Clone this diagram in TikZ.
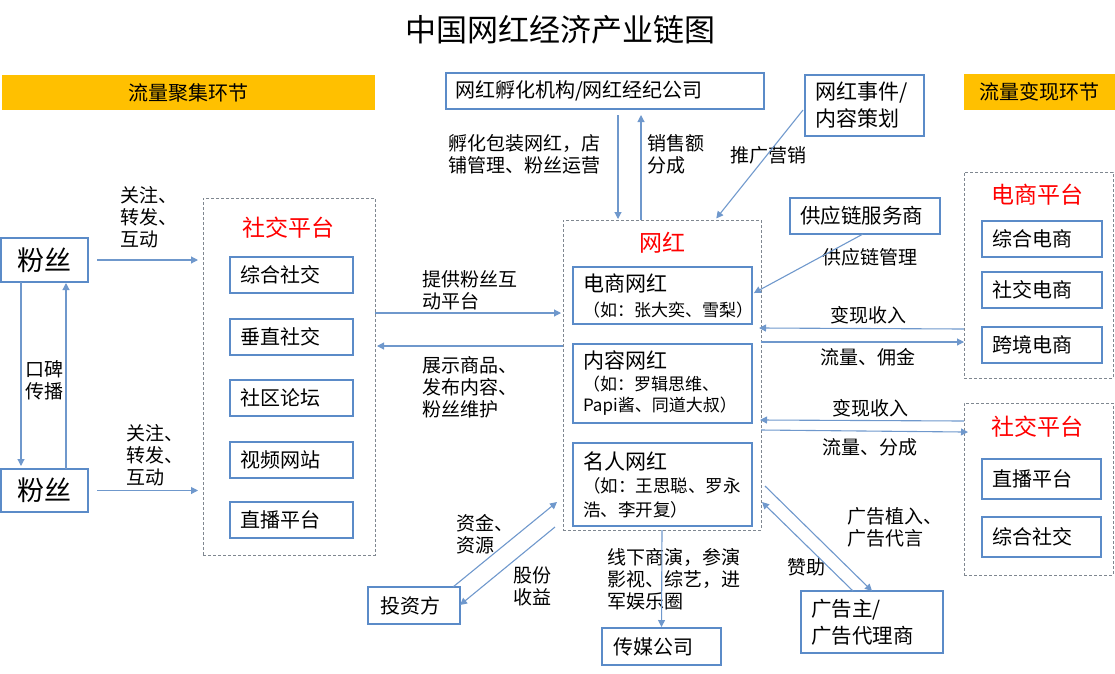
\documentclass[tikz,border=0pt]{standalone}
\usepackage{fontspec}
\setmainfont{Noto Sans CJK SC}
\usetikzlibrary{arrows.meta,calc}
\definecolor{boxblue}{HTML}{5B8BC8}
\definecolor{arrblue}{HTML}{6F98CC}
\definecolor{dashgray}{HTML}{7F8790}
\definecolor{bandyellow}{HTML}{FFC000}
\definecolor{redt}{HTML}{FF0000}
\begin{document}
\begin{tikzpicture}[x=1pt,y=-1pt,
  box/.style={draw=boxblue, line width=2pt, align=left, inner ysep=0pt, inner xsep=10pt, outer sep=0pt, anchor=north west, font=\fontsize{20}{24}\selectfont},
  grp/.style={draw=dashgray, line width=1pt, dash pattern=on 3pt off 2pt, anchor=north west, inner sep=0pt, outer sep=0pt},
  grptitle/.style={text=redt, font=\fontsize{23}{28}\selectfont, inner sep=0pt},
  band/.style={fill=bandyellow, anchor=north west, inner sep=0pt, outer sep=0pt, font=\fontsize{20}{24}\selectfont},
  lbl/.style={align=left, anchor=west, inner sep=0pt, font=\fontsize{19}{22}\selectfont},
  arr/.style={draw=arrblue, line width=1.1pt, -{Triangle[length=7pt,width=7pt]}}]
\useasboundingbox (0,0) rectangle (1115,673);

% title
\node[font=\fontsize{31}{36}\selectfont, inner sep=0pt] (title) at (560,30) {中国网红经济产业链图};

% bands
\node[band, minimum width=373pt, minimum height=35pt] (bandL) at (2,75) {流量聚集环节};
\node[band, minimum width=151pt, minimum height=36pt] (bandR) at (964,74) {流量变现环节};

% fans
\node[box, align=center, text width=67pt, minimum height=44pt, font=\fontsize{27}{30}\selectfont] (fans1) at (1,238) {粉丝};
\node[box, align=center, text width=67pt, minimum height=43pt, font=\fontsize{27}{30}\selectfont] (fans2) at (1,469) {粉丝};

% left social platform group
\node[grp, minimum width=172pt, minimum height=357pt] (soc) at (203,198) {};
\node[grptitle] (soct) at (288,228) {社交平台};
\node[box, text width=103pt, minimum height=36pt] (s1) at (230,257) {综合社交};
\node[box, text width=103pt, minimum height=36pt] (s2) at (230,319) {垂直社交};
\node[box, text width=103pt, minimum height=36pt] (s3) at (230,380) {社区论坛};
\node[box, text width=103pt, minimum height=36pt] (s4) at (230,442) {视频网站};
\node[box, text width=103pt, minimum height=36pt] (s5) at (230,502) {直播平台};

% top boxes
\node[box, inner xsep=9pt, text width=300pt, minimum height=36pt] (incub) at (446,73) {网红孵化机构/网红经纪公司};
\node[box, text width=99pt, minimum height=61pt, font=\fontsize{21}{27}\selectfont] (event) at (805,75) {网红事件/\\内容策划};
\node[box, text width=130pt, minimum height=36pt, font=\fontsize{20.5}{24}\selectfont] (supply) at (790,198) {供应链服务商};

% wanghong group
\node[grp, minimum width=198pt, minimum height=310pt] (wh) at (563,220) {};
\node[grptitle] (wht) at (662,243) {网红};
\node[box, text width=159pt, minimum height=57pt, font=\fontsize{21}{25}\selectfont] (ewh) at (573,267)
  {电商网红\\\fontsize{17}{25}\selectfont （如：张大奕、雪梨）};
\node[box, text width=159pt, minimum height=79pt, font=\fontsize{21}{21.5}\selectfont] (cwh) at (573,344)
  {内容网红\\\fontsize{17}{21.5}\selectfont （如：罗辑思维、\\Papi酱、同道大叔）};
\node[box, text width=159pt, minimum height=83pt, font=\fontsize{21}{23.5}\selectfont] (mwh) at (573,443)
  {名人网红\\\fontsize{17.5}{23.5}\selectfont （如：王思聪、罗永\\浩、李开复）};

% right groups
\node[grp, minimum width=149pt, minimum height=206pt] (ecom) at (964,172) {};
\node[grptitle] (ecomt) at (1037,195) {电商平台};
\node[box, text width=100pt, minimum height=36pt] (ec1) at (982,221) {综合电商};
\node[box, text width=100pt, minimum height=36pt] (ec2) at (982,272) {社交电商};
\node[box, text width=100pt, minimum height=36pt] (ec3) at (982,327) {跨境电商};

\node[grp, minimum width=149pt, minimum height=172pt] (socR) at (964,403) {};
\node[grptitle] (socRt) at (1037,427) {社交平台};
\node[box, text width=99pt, minimum height=40pt] (sr1) at (982,459) {直播平台};
\node[box, text width=99pt, minimum height=40pt] (sr2) at (982,517) {综合社交};

% bottom boxes
\node[box, text width=122pt, minimum height=62pt, font=\fontsize{20.5}{27}\selectfont] (adv) at (801,591) {广告主/\\广告代理商};
\node[box, inner xsep=12pt, text width=68pt, minimum height=37pt] (inv) at (368,587) {投资方};
\node[box, inner xsep=11pt, text width=97pt, minimum height=37pt] (media) at (602,628) {传媒公司};

% labels
\node[lbl] (l1) at (120,217) {关注、\\转发、\\互动};
\node[lbl] (l2) at (126,455) {关注、\\转发、\\互动};
\node[lbl] (l3) at (25,380) {口碑\\传播};
\node[lbl] (l4) at (448,154) {孵化包装网红，店\\铺管理、粉丝运营};
\node[lbl] (l5) at (647,154) {销售额\\分成};
\node[lbl, anchor=center] (l6) at (768,155) {推广营销};
\node[lbl] (l7) at (822,257) {供应链管理};
\node[lbl] (l8) at (422,290) {提供粉丝互\\动平台};
\node[lbl] (l9) at (422,387) {展示商品、\\发布内容、\\粉丝维护};
\node[lbl, anchor=center] (l10) at (868,315) {变现收入};
\node[lbl, anchor=center] (l11) at (868,357) {流量、佣金};
\node[lbl, anchor=center] (l12) at (870,408) {变现收入};
\node[lbl, anchor=center] (l13) at (870,447) {流量、分成};
\node[lbl] (l14) at (847,527) {广告植入、\\广告代言};
\node[lbl] (l15) at (787,567) {赞助};
\node[lbl] (l16) at (456,534) {资金、\\资源};
\node[lbl] (l17) at (513,586) {股份\\收益};
\node[lbl] (l18) at (607,579) {线下商演，参演\\影视、综艺，进\\军娱乐圈};

% connectors
\draw[arr, shorten >=3pt] ([xshift=20pt]fans1.south west) -- ([xshift=20pt]fans2.north west);
\draw[arr, shorten >=1pt] ([xshift=65pt]fans2.north west) -- ([xshift=65pt]fans1.south west);
\draw[arr, shorten <=9pt, shorten >=5pt] (fans1.east) -- (soc.west |- fans1.east);
\draw[arr, shorten <=9pt, shorten >=5pt] (fans2.east) -- (soc.west |- fans2.east);

\draw[arr, shorten >=2pt] ([yshift=-115pt]soc.north east) -- ([yshift=-93pt]wh.north west);
\draw[arr, shorten >=2pt] ([yshift=-126pt]wh.north west) -- ([yshift=-148pt]soc.north east);

\draw[arr, shorten <=6pt, shorten >=1pt] ([xshift=172pt]incub.south west) -- ([xshift=55pt]wh.north west);
\draw[arr, shorten >=6pt] ([xshift=78pt]wh.north west) -- ([xshift=195pt]incub.south west);
\draw[arr, shorten >=2pt] ([xshift=-2pt,yshift=26pt]event.south west) -- ([xshift=152pt]wh.north west);
\draw[arr, shorten >=1pt] ([xshift=73pt]supply.south west) -- ([xshift=1pt,yshift=2pt]ewh.east);

\draw[arr, shorten >=-2pt] ([yshift=-157pt]ecom.north west) -- ([yshift=-108pt]wh.north east);
\draw[arr] ([yshift=-122pt]wh.north east) -- ([yshift=-170pt]ecom.north west);
\draw[arr, shorten >=-1pt] ([yshift=-18pt]socR.north west) -- ([yshift=-200pt]wh.north east);
\draw[arr, shorten >=-4pt] ([yshift=-210pt]wh.north east) -- ([yshift=-29pt]socR.north west);

\draw[arr] ([xshift=4pt,yshift=-266pt]wh.north east) -- ([xshift=71pt]adv.north west);
\draw[arr] ([xshift=52pt]adv.north west) -- ([xshift=1pt,yshift=-282pt]wh.north east);

\draw[arr] ([xshift=85pt]inv.north west) -- ([xshift=-6pt,yshift=-282pt]wh.north west);
\draw[arr] ([xshift=-8pt,yshift=-307pt]wh.north west) -- ([yshift=-18pt]inv.north east);

\draw[arr, shorten >=1pt] (wh.south) -- (media.north);
\end{tikzpicture}
\end{document}
